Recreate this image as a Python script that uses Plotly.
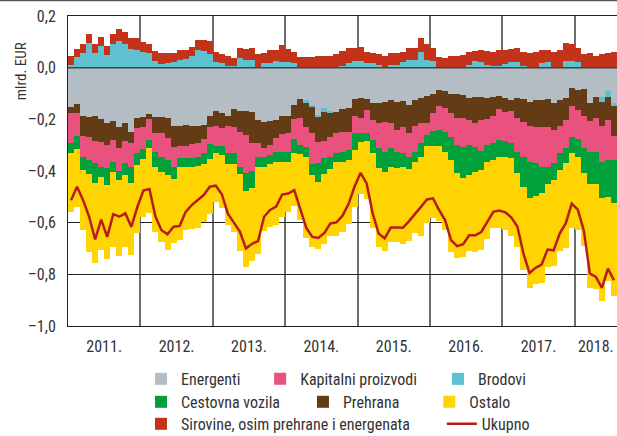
import plotly.graph_objects as go

# Monthly periods: Jan 2011 .. Jul 2018
months = [f"{y}-{m:02d}" for y in range(2011, 2019) for m in range(1, 13)][:91]

year_labels = ["2011.", "2012.", "2013.", "2014.", "2015.", "2016.", "2017.", "2018."]

energenti = [-0.153,-0.140,-0.189,-0.192,-0.189,-0.199,-0.215,-0.208,-0.228,-0.215,-0.249,-0.194,
             -0.192,-0.179,-0.192,-0.192,-0.195,-0.225,-0.225,-0.220,-0.225,-0.225,-0.223,-0.189,
             -0.166,-0.176,-0.186,-0.161,-0.166,-0.166,-0.170,-0.202,-0.212,-0.208,-0.202,-0.186,
             -0.189,-0.144,-0.120,-0.124,-0.144,-0.183,-0.158,-0.166,-0.170,-0.161,-0.157,-0.122,
             -0.118,-0.122,-0.137,-0.137,-0.131,-0.127,-0.131,-0.128,-0.144,-0.124,-0.118,-0.111,
             -0.101,-0.088,-0.092,-0.101,-0.101,-0.105,-0.118,-0.114,-0.114,-0.118,-0.114,-0.111,
             -0.118,-0.124,-0.118,-0.122,-0.131,-0.124,-0.124,-0.122,-0.137,-0.124,-0.118,-0.079,
             -0.085,-0.083,-0.137,-0.114,-0.114,-0.092,-0.137]

brodovi = [0.012,0.041,0.057,0.096,0.057,0.083,0.049,0.091,0.104,0.093,0.072,0.070,
           0.062,0.057,0.025,0.016,0.018,0.021,0.028,0.034,0.044,0.067,0.065,0.052,
           0.021,0.018,0.005,0.005,0.039,0.031,0.031,0.000,0.018,0.018,0.026,0.023,
           0.021,0.018,0.000,-0.013,-0.009,-0.009,-0.013,-0.010,0.000,0.008,0.018,0.025,
           0.025,0.020,0.018,0.012,0.000,0.012,0.012,0.021,0.028,0.028,0.060,0.031,
           0.026,0.000,0.000,0.000,0.000,0.000,0.010,0.025,0.023,0.012,0.008,0.005,
           0.015,0.021,0.023,0.008,0.000,0.000,0.018,0.021,0.000,0.000,0.026,0.026,
           0.021,0.000,0.000,0.000,-0.017,-0.022,-0.010]

prehrana = [-0.023,-0.034,-0.075,-0.075,-0.093,-0.087,-0.084,-0.071,-0.084,-0.067,-0.041,-0.040,
            -0.039,-0.021,-0.060,-0.062,-0.078,-0.083,-0.078,-0.083,-0.070,-0.067,-0.054,-0.039,
            -0.060,-0.058,-0.041,-0.067,-0.082,-0.094,-0.120,-0.088,-0.100,-0.091,-0.071,-0.070,
            -0.065,-0.056,-0.075,-0.091,-0.101,-0.094,-0.111,-0.091,-0.084,-0.087,-0.091,-0.067,
            -0.078,-0.041,-0.065,-0.078,-0.078,-0.088,-0.110,-0.100,-0.110,-0.101,-0.097,-0.104,
            -0.075,-0.060,-0.065,-0.075,-0.094,-0.091,-0.084,-0.101,-0.088,-0.082,-0.075,-0.049,
            -0.052,-0.045,-0.078,-0.087,-0.094,-0.104,-0.106,-0.109,-0.104,-0.101,-0.084,-0.069,
            -0.078,-0.106,-0.071,-0.082,-0.094,-0.088,-0.119]

kapitalni = [-0.114,-0.091,-0.083,-0.091,-0.088,-0.097,-0.091,-0.088,-0.087,-0.088,-0.093,-0.097,
             -0.085,-0.080,-0.075,-0.091,-0.084,-0.075,-0.048,-0.048,-0.056,-0.052,-0.054,-0.067,
             -0.078,-0.071,-0.104,-0.104,-0.136,-0.149,-0.110,-0.057,-0.035,-0.039,-0.053,-0.069,
             -0.071,-0.078,-0.105,-0.078,-0.117,-0.084,-0.069,-0.078,-0.075,-0.078,-0.071,-0.062,
             -0.056,-0.091,-0.078,-0.097,-0.117,-0.097,-0.084,-0.104,-0.093,-0.100,-0.078,-0.045,
             -0.071,-0.093,-0.091,-0.093,-0.104,-0.110,-0.097,-0.091,-0.119,-0.100,-0.104,-0.119,
             -0.113,-0.123,-0.129,-0.136,-0.139,-0.142,-0.153,-0.153,-0.129,-0.106,-0.110,-0.119,
             -0.114,-0.123,-0.117,-0.129,-0.139,-0.155,-0.091]

cestovna = [-0.039,-0.048,-0.049,-0.054,-0.075,-0.039,-0.065,-0.035,-0.036,-0.045,-0.065,-0.045,
            -0.039,-0.032,-0.057,-0.058,-0.058,-0.049,-0.032,-0.032,-0.032,-0.036,-0.041,-0.060,
            -0.028,-0.032,-0.041,-0.039,-0.028,-0.067,-0.067,-0.039,-0.036,-0.035,-0.038,-0.039,
            -0.039,-0.052,-0.034,-0.041,-0.045,-0.071,-0.061,-0.049,-0.035,-0.039,-0.039,-0.067,
            -0.035,-0.028,-0.052,-0.078,-0.078,-0.071,-0.065,-0.052,-0.047,-0.039,-0.052,-0.045,
            -0.056,-0.062,-0.078,-0.088,-0.110,-0.123,-0.117,-0.097,-0.075,-0.065,-0.065,-0.065,
            -0.062,-0.058,-0.084,-0.117,-0.142,-0.127,-0.104,-0.065,-0.065,-0.065,-0.058,-0.065,
            -0.067,-0.097,-0.126,-0.126,-0.139,-0.145,-0.168]

ostalo = [-0.229,-0.227,-0.233,-0.302,-0.311,-0.285,-0.285,-0.291,-0.293,-0.278,-0.278,-0.265,
          -0.223,-0.252,-0.252,-0.272,-0.289,-0.246,-0.285,-0.246,-0.243,-0.242,-0.224,-0.210,
          -0.187,-0.205,-0.237,-0.265,-0.298,-0.296,-0.281,-0.337,-0.251,-0.245,-0.244,-0.215,
          -0.196,-0.206,-0.257,-0.314,-0.280,-0.262,-0.272,-0.256,-0.287,-0.271,-0.246,-0.220,
          -0.201,-0.226,-0.289,-0.304,-0.304,-0.293,-0.286,-0.298,-0.276,-0.276,-0.308,-0.296,
          -0.278,-0.289,-0.303,-0.355,-0.329,-0.303,-0.293,-0.311,-0.310,-0.297,-0.262,-0.276,
          -0.285,-0.303,-0.284,-0.320,-0.346,-0.340,-0.345,-0.323,-0.334,-0.313,-0.329,-0.287,
          -0.284,-0.281,-0.403,-0.406,-0.401,-0.323,-0.358]

sirovine = [0.035,0.031,0.034,0.036,0.036,0.036,0.036,0.039,0.044,0.047,0.041,0.044,
            0.036,0.036,0.038,0.039,0.039,0.036,0.041,0.036,0.036,0.041,0.041,0.052,
            0.041,0.034,0.039,0.031,0.036,0.041,0.044,0.052,0.039,0.049,0.044,0.065,
            0.052,0.044,0.041,0.041,0.041,0.044,0.044,0.047,0.052,0.055,0.058,0.053,
            0.056,0.040,0.039,0.040,0.047,0.045,0.045,0.041,0.047,0.047,0.054,0.060,
            0.049,0.041,0.039,0.044,0.047,0.049,0.050,0.040,0.047,0.053,0.054,0.062,
            0.055,0.052,0.054,0.054,0.057,0.062,0.052,0.047,0.062,0.067,0.070,0.067,
            0.057,0.052,0.057,0.047,0.052,0.057,0.060]

ukupno = [-0.513,-0.461,-0.513,-0.577,-0.665,-0.588,-0.655,-0.567,-0.577,-0.564,-0.616,-0.539,
          -0.476,-0.470,-0.577,-0.629,-0.645,-0.616,-0.613,-0.558,-0.532,-0.513,-0.493,-0.461,
          -0.457,-0.490,-0.565,-0.600,-0.635,-0.700,-0.682,-0.671,-0.577,-0.551,-0.538,-0.491,
          -0.487,-0.474,-0.550,-0.620,-0.655,-0.659,-0.640,-0.603,-0.599,-0.573,-0.528,-0.460,
          -0.407,-0.448,-0.564,-0.642,-0.661,-0.619,-0.619,-0.620,-0.595,-0.565,-0.539,-0.510,
          -0.506,-0.551,-0.590,-0.668,-0.691,-0.683,-0.649,-0.649,-0.636,-0.597,-0.558,-0.553,
          -0.560,-0.580,-0.616,-0.720,-0.795,-0.775,-0.762,-0.704,-0.707,-0.642,-0.603,-0.526,
          -0.550,-0.630,-0.797,-0.810,-0.852,-0.778,-0.823]

y_ticks = [0.2, 0.0, -0.2, -0.4, -0.6, -0.8, -1.0]
y_ticktext = ["0,2", "0,0", "\u20130,2", "\u20130,4", "\u20130,6", "\u20130,8", "\u20131,0"]

x = list(range(len(months)))
FONT = "Liberation Sans Narrow, Arial Narrow, Roboto Condensed, Liberation Sans, sans-serif"

# (name, values, colour, legend id) in stacking order
series = [
    ("Energenti", energenti, "#B3BDC3", "legend"),
    ("Brodovi", brodovi, "#5FC1CF", "legend3"),
    ("Prehrana", prehrana, "#633B14", "legend5"),
    ("Kapitalni proizvodi", kapitalni, "#E9517F", "legend2"),
    ("Cestovna vozila", cestovna, "#00A13A", "legend4"),
    ("Ostalo", ostalo, "#FFD400", "legend6"),
    ("Sirovine, osim prehrane i energenata", sirovine, "#C2331A", "legend7"),
]

fig = go.Figure()
for name, vals, col, leg in series:
    fig.add_trace(go.Bar(x=x, y=vals, name=name, marker=dict(color=col, line=dict(width=0)),
                         customdata=months, legend=leg, showlegend=True,
                         hovertemplate="%{customdata}: %{y}<extra>" + name + "</extra>"))

fig.add_trace(go.Scatter(x=x, y=ukupno, name="Ukupno", mode="lines",
                         line=dict(color="#B81C1C", width=2.5), legend="legend8",
                         showlegend=True, customdata=months))

year_centers = [5.5 + 12 * k for k in range(7)] + [87]
year_bounds = [11.5 + 12 * k for k in range(7)]

def leg(xp, yp):
    return dict(x=xp, y=yp, yanchor="top", xanchor="left", orientation="v",
                traceorder="normal", font=dict(size=16, color="#333333"),
                bgcolor="rgba(0,0,0,0)", visible=True)

ROW1, ROW2, ROW3 = -0.116, -0.190, -0.261

fig.update_layout(
    width=617, height=436,
    showlegend=True,
    margin=dict(l=68, r=0, t=16, b=110, autoexpand=False),
    barmode="relative", bargap=0,
    plot_bgcolor="white", paper_bgcolor="white",
    font=dict(family=FONT, size=16, color="#333333"),
    xaxis=dict(range=[-0.5, 90.5], tickvals=year_centers, ticktext=year_labels,
               showgrid=False, zeroline=False, showline=True, linecolor="#222222", linewidth=1,
               mirror=True, ticks="outside", ticklen=6, tickcolor="rgba(0,0,0,0)",
               minor=dict(tickvals=year_bounds, showgrid=True, gridcolor="#6e6e6e", gridwidth=1.5),
               tickfont=dict(size=16)),
    yaxis=dict(range=[-1.0, 0.2], tickvals=y_ticks, ticktext=y_ticktext,
               showgrid=True, gridcolor="#222222", gridwidth=1, zeroline=False,
               showline=True, linecolor="#222222", linewidth=1,
               ticks="outside", ticklen=8, tickcolor="rgba(0,0,0,0)", tickfont=dict(size=16)),
    legend=leg(0.133, ROW1),
    legend2=leg(0.350, ROW1),
    legend3=leg(0.674, ROW1),
    legend4=leg(0.133, ROW2),
    legend5=leg(0.428, ROW2),
    legend6=leg(0.658, ROW2),
    legend7=leg(0.133, ROW3),
    legend8=leg(0.681, ROW3),
    annotations=[dict(text="mlrd. EUR", textangle=-90, xref="paper", yref="paper",
                      x=-0.105, y=0.923, showarrow=False, font=dict(size=15, color="#333333"))],
    shapes=[
        dict(type="line", xref="paper", yref="y", x0=0, x1=1, y0=0, y1=0,
             line=dict(color="#37474F", width=1.5), layer="above"),
        dict(type="line", xref="paper", yref="paper", x0=-0.2, x1=1.0, y0=1.05, y1=1.05,
             line=dict(color="#555555", width=1.5)),
    ],
)

fig.write_html("out.html", config={"displayModeBar": False},
               post_script="document.body.style.margin='0px';document.body.style.overflow='hidden';")
